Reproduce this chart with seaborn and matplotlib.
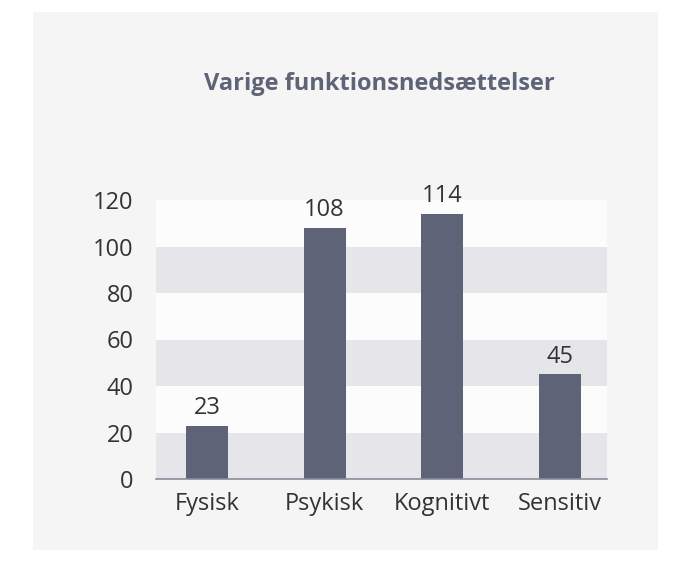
import matplotlib
matplotlib.use("Agg")
import matplotlib.pyplot as plt
import seaborn as sns
from matplotlib.patches import Rectangle

categories = ["Fysisk", "Psykisk", "Kognitivt", "Sensitiv"]
values = [23, 108, 114, 45]
y_ticks = [0, 20, 40, 60, 80, 100, 120]
title = "Varige funktionsnedsættelser"

sns.set_theme(style="white")
plt.rcParams["font.family"] = ["Open Sans", "DejaVu Sans"]

bar_color = "#5f6377"
text_color = "#333333"
fs = 17

fig = plt.figure(figsize=(6.91, 5.78), dpi=100)
fig.patch.set_facecolor("white")
fig.patches.append(Rectangle((33 / 691, 1 - 550 / 578), (658 - 33) / 691, (550 - 12) / 578,
                             transform=fig.transFigure, facecolor="#f5f5f5",
                             edgecolor="none", zorder=-10))

ax = fig.add_axes([156 / 691, 1 - 479 / 578, (607 - 156) / 691, (479 - 200) / 578])
ax.set_facecolor("#fcfcfc")
for i in range(0, len(y_ticks) - 1, 2):
    ax.axhspan(y_ticks[i], y_ticks[i + 1], color="#e5e5ea", zorder=0, lw=0)

sns.barplot(x=categories, y=values, color=bar_color, saturation=1, width=0.357, ax=ax,
            zorder=2, linewidth=0, edgecolor="none")
ax.bar_label(ax.containers[0], padding=4, fontsize=fs, color=text_color)

ax.set_xlim(-0.433, 3.40)
ax.set_ylim(0, 120)
ax.set_yticks(y_ticks)
ax.set_xlabel("")
ax.set_ylabel("")
ax.tick_params(axis="y", length=0, pad=16, labelsize=fs, labelcolor=text_color)
ax.tick_params(axis="x", length=0, pad=9, labelsize=fs, labelcolor=text_color)
for s in ["top", "right", "left"]:
    ax.spines[s].set_visible(False)
ax.spines["bottom"].set_color("#8a8c9a")
ax.spines["bottom"].set_linewidth(1.2)
ax.spines["bottom"].set_zorder(3)

fig.text(379 / 691, 1 - 84 / 578, title, ha="center", va="center", fontsize=fs,
         fontweight="bold", color="#5f6377")

fig.savefig("out.png", dpi=100)
